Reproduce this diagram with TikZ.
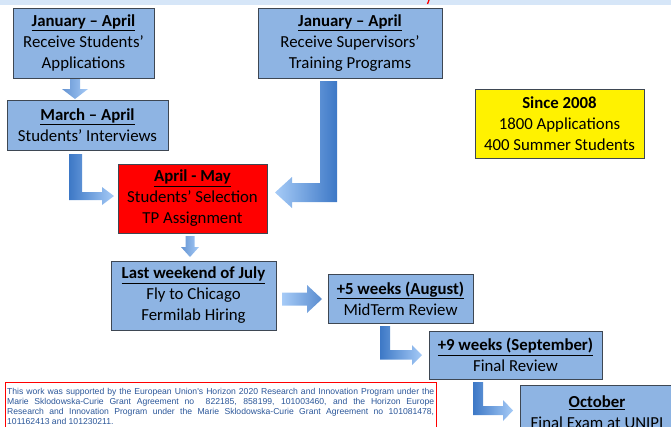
\documentclass[tikz,border=0pt]{standalone}
\usepackage{fontspec}
\setmainfont{Carlito}
\newfontfamily\notefont{Liberation Sans}
\definecolor{boxfill}{HTML}{8EB4E3}
\definecolor{boxline}{HTML}{3E4753}
\definecolor{band}{HTML}{D6E6F8}
\definecolor{arrdark}{HTML}{3D78C6}
\definecolor{arrlight}{HTML}{A6CBF7}
\definecolor{notetext}{HTML}{2A5699}
\tikzset{
  box/.style={draw=boxline, line width=0.8pt, fill=boxfill, align=center,
    inner sep=0pt, font=\fontsize{16.8}{21}\selectfont, text=black},
  darr/.style={left color=arrdark!80, right color=arrlight},
  larr/.style={left color=arrdark, right color=arrlight},
  rarr/.style={left color=arrlight, right color=arrdark},
}
\newcommand{\hd}[1]{\underline{\textbf{#1}}}
\begin{document}
\begin{tikzpicture}[x=1pt,y=-1pt]
\useasboundingbox (0,0) rectangle (671,426);
\clip (0,0) rectangle (671,426);
\fill[band] (0,0) rectangle (671,4.5);
\draw[red, line width=1.3pt] (429,0) -- (427.5,4);

% boxes
\node[box, minimum width=141pt, minimum height=70pt] (b1) at (83.5,43)
  {\hd{January – April}\\Receive Students’\\Applications};
\node[box, minimum width=161pt, minimum height=50pt] (b2) at (87.5,125)
  {\hd{March – April}\\Students’ Interviews};
\node[box, minimum width=184pt, minimum height=70pt] (b3) at (350,43)
  {\hd{January – April}\\Receive Supervisors’\\Training Programs};
\node[box, fill=yellow, minimum width=169pt, minimum height=69pt] (stats) at (559.5,123.5)
  {\textbf{Since 2008}\\1800 Applications\\400 Summer Students};
\node[box, fill=red, minimum width=149pt, minimum height=69pt] (sel) at (192.5,198.5)
  {\hd{April - May}\\Students’ Selection\\TP Assignment};
\node[box, minimum width=165pt, minimum height=69pt] (fly) at (193.5,295.5)
  {\hd{Last weekend of July}\\Fly to Chicago\\Fermilab Hiring};
\node[box, minimum width=145pt, minimum height=49pt] (mid) at (400.5,298.5)
  {\hd{+5 weeks (August)}\\MidTerm Review};
\node[box, minimum width=173pt, minimum height=48pt] (fin) at (515.5,355)
  {\hd{+9 weeks (September)}\\Final Review};
\node[box, minimum width=154pt, minimum height=54pt] (oct) at (597,412)
  {\hd{October}\\Final Exam at UNIPI};

% block arrows
\shade[darr] (70,79) -- (80,79) -- (80,89) -- (88,89) -- (75,99) -- (62,89) -- (70,89) -- cycle;
\shade[larr] (69,154) -- (82,154) -- (82,192) -- (102,192) -- (102,187) -- (114,196)
  -- (102,205) -- (102,200) -- (69,200) -- cycle;
\shade[rarr] (337,81) -- (320,81) -- (320,183) -- (292,183) -- (292,177) -- (275,192.5)
  -- (292,208) -- (292,202) -- (337,202) -- cycle;
\shade[darr] (185.5,236) -- (194.5,236) -- (194.5,247) -- (199,247) -- (190,257) -- (181,247) -- (185.5,247) -- cycle;
\shade[left color=arrlight, right color=arrdark!85] (282,292.5) -- (307,292.5) -- (307,285) -- (322,299)
  -- (307,313) -- (307,305.5) -- (282,305.5) -- cycle;
\shade[larr] (380,326) -- (390,326) -- (390,350) -- (412,350) -- (412,345) -- (422,355)
  -- (412,365) -- (412,359.5) -- (380,359.5) -- cycle;
\shade[larr] (473,382) -- (483,382) -- (483,406) -- (503,406) -- (503,400) -- (513,410.5)
  -- (503,421) -- (503,415) -- (473,415) -- cycle;

% acknowledgement
\node[draw=red, line width=0.6pt, anchor=north west, inner xsep=2pt, inner ysep=0pt,
  text width=427pt, align=justify, text=notetext, minimum height=50pt, text depth=0pt,
  font=\notefont\fontsize{8.6}{10}\selectfont] (ackbox) at (5,382) {};
\node[anchor=north west, inner sep=0pt, text width=427pt, align=justify, text=notetext,
  font=\notefont\fontsize{8.6}{10}\selectfont] (ack) at (7,388)
  {This work was supported by the European Union's Horizon 2020 Research and Innovation Program under the\linebreak
   Marie Sklodowska-Curie Grant Agreement no\ \ 822185, 858199, 101003460, and the Horizon Europe\linebreak
   Research and Innovation Program under the Marie Sklodowska-Curie Grant Agreement no 101081478,\linebreak
   101162413 and 101230211.};
\end{tikzpicture}
\end{document}
